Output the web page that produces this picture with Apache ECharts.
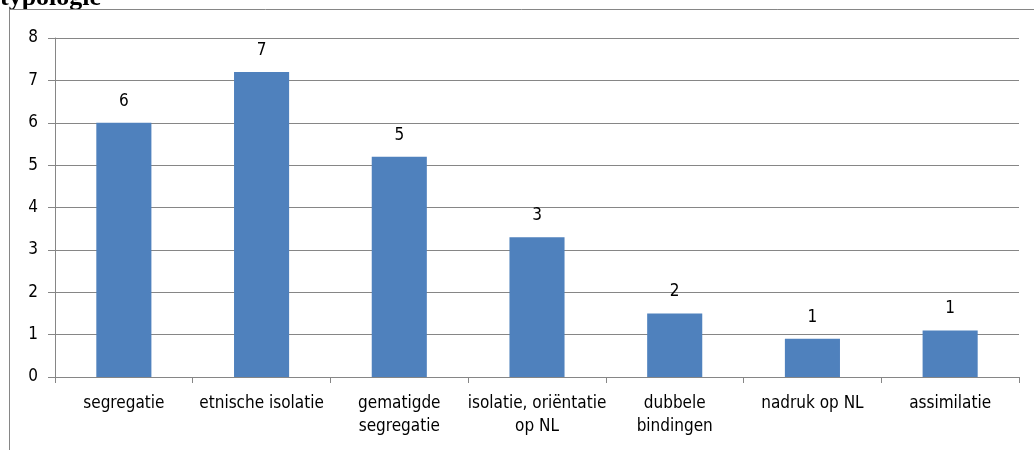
<!DOCTYPE html>
<html lang="nl">
  <head>
    <meta charset="UTF-8" />
    <title>typologie</title>
    <script src="https://cdn.jsdelivr.net/npm/echarts@6/dist/echarts.min.js"></script>
    <style>
      body { margin: 0; background: #fff; }
      #main { width: 1034px; height: 450px; }
    </style>
  </head>
  <body>
    <div id="main"></div>
    <script>
      const categories = [
        "segregatie",
        "etnische isolatie",
        "gematigde\nsegregatie",
        "isolatie, oriëntatie\nop NL",
        "dubbele\nbindingen",
        "nadruk op NL",
        "assimilatie",
      ];
      const values = [6.0, 7.2, 5.2, 3.3, 1.5, 0.9, 1.1];
      const valueLabels = ["6", "7", "5", "3", "2", "1", "1"];
      const yTicks = [0, 1, 2, 3, 4, 5, 6, 7, 8];

      const font = '"Liberation Sans Narrow", "DejaVu Sans Condensed", sans-serif';
      const gray = "#868686";

      let myChart = echarts.init(document.getElementById("main"));

      let options = {
        animation: false,
        graphic: [
          {
            type: "text",
            left: 0,
            top: -15,
            style: {
              text: "typologie",
              font: 'bold 26px "Liberation Serif", serif',
              fill: "#000",
            },
          },
          {
            type: "polyline",
            shape: { points: [[9.5, 450], [9.5, 9.5], [1034, 9.5]] },
            style: { stroke: gray, lineWidth: 1, fill: "none" },
          },
        ],
        grid: { left: 55, right: 15, top: 38, bottom: 73 },
        xAxis: {
          type: "category",
          data: categories,
          axisLine: { lineStyle: { color: gray } },
          axisTick: { show: true, length: 6, lineStyle: { color: gray } },
          axisLabel: {
            color: "#000",
            fontFamily: font,
            fontSize: 17,
            lineHeight: 23,
            margin: 15,
            interval: 0,
          },
        },
        yAxis: {
          type: "value",
          min: yTicks[0],
          max: yTicks[yTicks.length - 1],
          interval: 1,
          axisLine: { show: true, lineStyle: { color: gray } },
          axisTick: { show: true, length: 7, lineStyle: { color: gray } },
          axisLabel: {
            color: "#000",
            fontFamily: font,
            fontSize: 17,
            margin: 17,
          },
          splitLine: { lineStyle: { color: gray, width: 1 } },
        },
        series: [
          {
            type: "bar",
            data: values,
            barWidth: "40%",
            itemStyle: { color: "#4F81BD" },
            label: {
              show: true,
              position: "top",
              distance: 13,
              color: "#000",
              fontFamily: font,
              fontSize: 17,
              formatter: (p) => valueLabels[p.dataIndex],
            },
          },
        ],
      };

      myChart.setOption(options);
    </script>
  </body>
</html>
